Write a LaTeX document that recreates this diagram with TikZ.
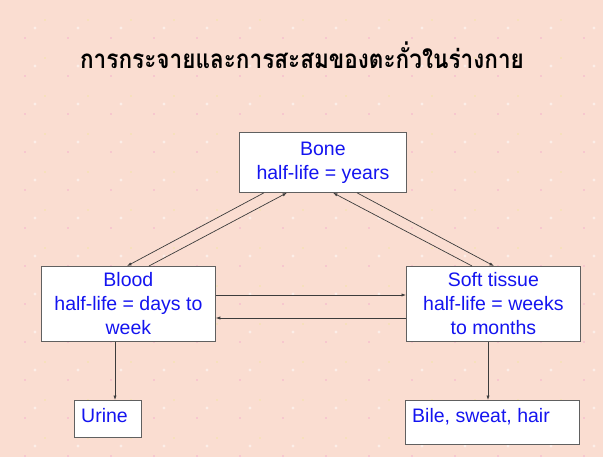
\documentclass[tikz,border=0pt]{standalone}
\usepackage{fontspec}
\setmainfont{Liberation Sans}
\newfontfamily\thaifont[Script=Thai]{Loma}
\usetikzlibrary{arrows.meta}
\definecolor{bgpeach}{RGB}{250,221,209}
\definecolor{txtblue}{RGB}{20,20,240}
\definecolor{lnk}{RGB}{60,60,60}
\definecolor{dotpink}{RGB}{240,150,200}
\definecolor{dotyel}{RGB}{240,232,150}
\tikzset{
  box/.style={draw=gray!75!black, line width=0.8pt, fill=white, inner sep=0pt, anchor=north west},
  boxtext/.style={text=txtblue, font=\fontsize{19.5}{24}\selectfont, align=center, inner sep=0pt},
  link/.style={draw=lnk, line width=0.7pt, -{Latex[length=4.5pt,width=3.2pt]}},
}
\begin{document}
\begin{tikzpicture}[x=1pt,y=-1pt]
\useasboundingbox (0,0) rectangle (603,457);
\fill[bgpeach] (0,0) rectangle (603,457);
% faint dotted wallpaper
\foreach \i in {0,...,14}{
  \foreach \j in {0,...,11}{
    \fill[dotpink!60!bgpeach] (25+43*\i, 38+38*\j) circle (0.9);
    \fill[dotyel!70!bgpeach] (45+43*\i, 20+38*\j) circle (0.9);
    \fill[white!50!bgpeach] (35+43*\i, 28+38*\j) circle (1.6);
  }
}
% title
\node[inner sep=0pt, anchor=base, font=\thaifont\bfseries\fontsize{26}{30}\selectfont, xscale=0.868, transform shape] (title) at (302,69) {การกระจายและการสะสมของตะกั่วในร่างกาย};
% boxes
\node[box, minimum width=167pt, minimum height=60pt] (bone) at (239,132) {};
\node[boxtext] (bonet) at (bone.center) {Bone\\half-life = years};
\node[box, minimum width=174pt, minimum height=75pt] (blood) at (41,266) {};
\node[boxtext] (bloodt) at (blood.center) {Blood\\half-life = days to\\week};
\node[box, minimum width=174pt, minimum height=75pt] (soft) at (406,266) {};
\node[boxtext] (softt) at (soft.center) {Soft tissue\\half-life = weeks\\to months};
\node[box, minimum width=67pt, minimum height=37pt] (urine) at (74,400) {};
\node[boxtext, anchor=base west] (urinet) at (81,422) {Urine};
\node[box, minimum width=174pt, minimum height=44pt] (bile) at (405,400) {};
\node[boxtext, anchor=base west] (bilet) at (412,422) {Bile, sweat, hair};
% connectors
\draw[link] ([xshift=25pt]bone.south west) -- ([xshift=86pt]blood.north west);
\draw[link] ([xshift=108pt]blood.north west) -- ([xshift=48pt]bone.south west);
\draw[link] ([xshift=66pt]soft.north west) -- ([xshift=94pt]bone.south west);
\draw[link] ([xshift=118pt]bone.south west) -- ([xshift=88pt]soft.north west);
\draw[link] ([yshift=-29pt]blood.north east) -- ([yshift=-29pt]soft.north west);
\draw[link] ([yshift=-52pt]soft.north west) -- ([yshift=-52pt]blood.north east);
\draw[link] ([xshift=74pt]blood.south west) -- ([xshift=41pt]urine.north west);
\draw[link] ([xshift=82pt]soft.south west) -- ([xshift=83pt]bile.north west);
\end{tikzpicture}
\end{document}
